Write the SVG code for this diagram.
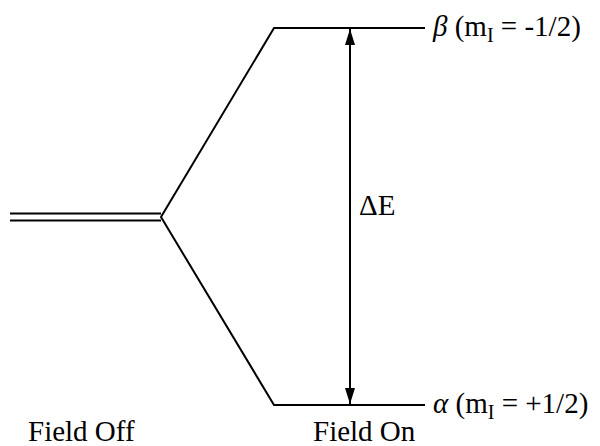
<svg xmlns="http://www.w3.org/2000/svg" width="600" height="446" viewBox="0 0 600 446">
<style>
.ln{fill:none;stroke:#000;stroke-width:2}
text{font-family:"Liberation Serif","Times New Roman",serif;font-size:29px;fill:#000}
</style>
<defs>
<marker id="ah" viewBox="0 0 16 10" refX="16" refY="5" markerWidth="16" markerHeight="10" markerUnits="userSpaceOnUse" orient="auto">
<path d="M0,0 L16,5 L0,10 Z" fill="#000"/>
</marker>
</defs>
<rect width="600" height="446" fill="#fff"/>
<g id="connectors">
<path class="ln" d="M10,213.5 H161"/>
<path class="ln" d="M10,220.5 H161"/>
<path class="ln" d="M425,28 H274 L161,217 L274,405 H425"/>
<line class="ln" x1="350" y1="217" x2="350" y2="29" marker-end="url(#ah)"/>
<line class="ln" x1="350" y1="217" x2="350" y2="404" marker-end="url(#ah)"/>
</g>
<g id="beta"><text x="433" y="36"><tspan font-style="italic">β</tspan> (m<tspan font-size="20" dy="6">I</tspan><tspan dy="-6"> = -1/2)</tspan></text></g>
<g id="alpha"><text x="433" y="413"><tspan font-style="italic">α</tspan> (m<tspan font-size="20" dy="6">I</tspan><tspan dy="-6"> = +1/2)</tspan></text></g>
<g id="deltaE"><text x="359" y="215" font-size="27">ΔE</text></g>
<g id="fieldoff"><text x="28" y="441">Field Off</text></g>
<g id="fieldon"><text x="313" y="441">Field On</text></g>
</svg>
